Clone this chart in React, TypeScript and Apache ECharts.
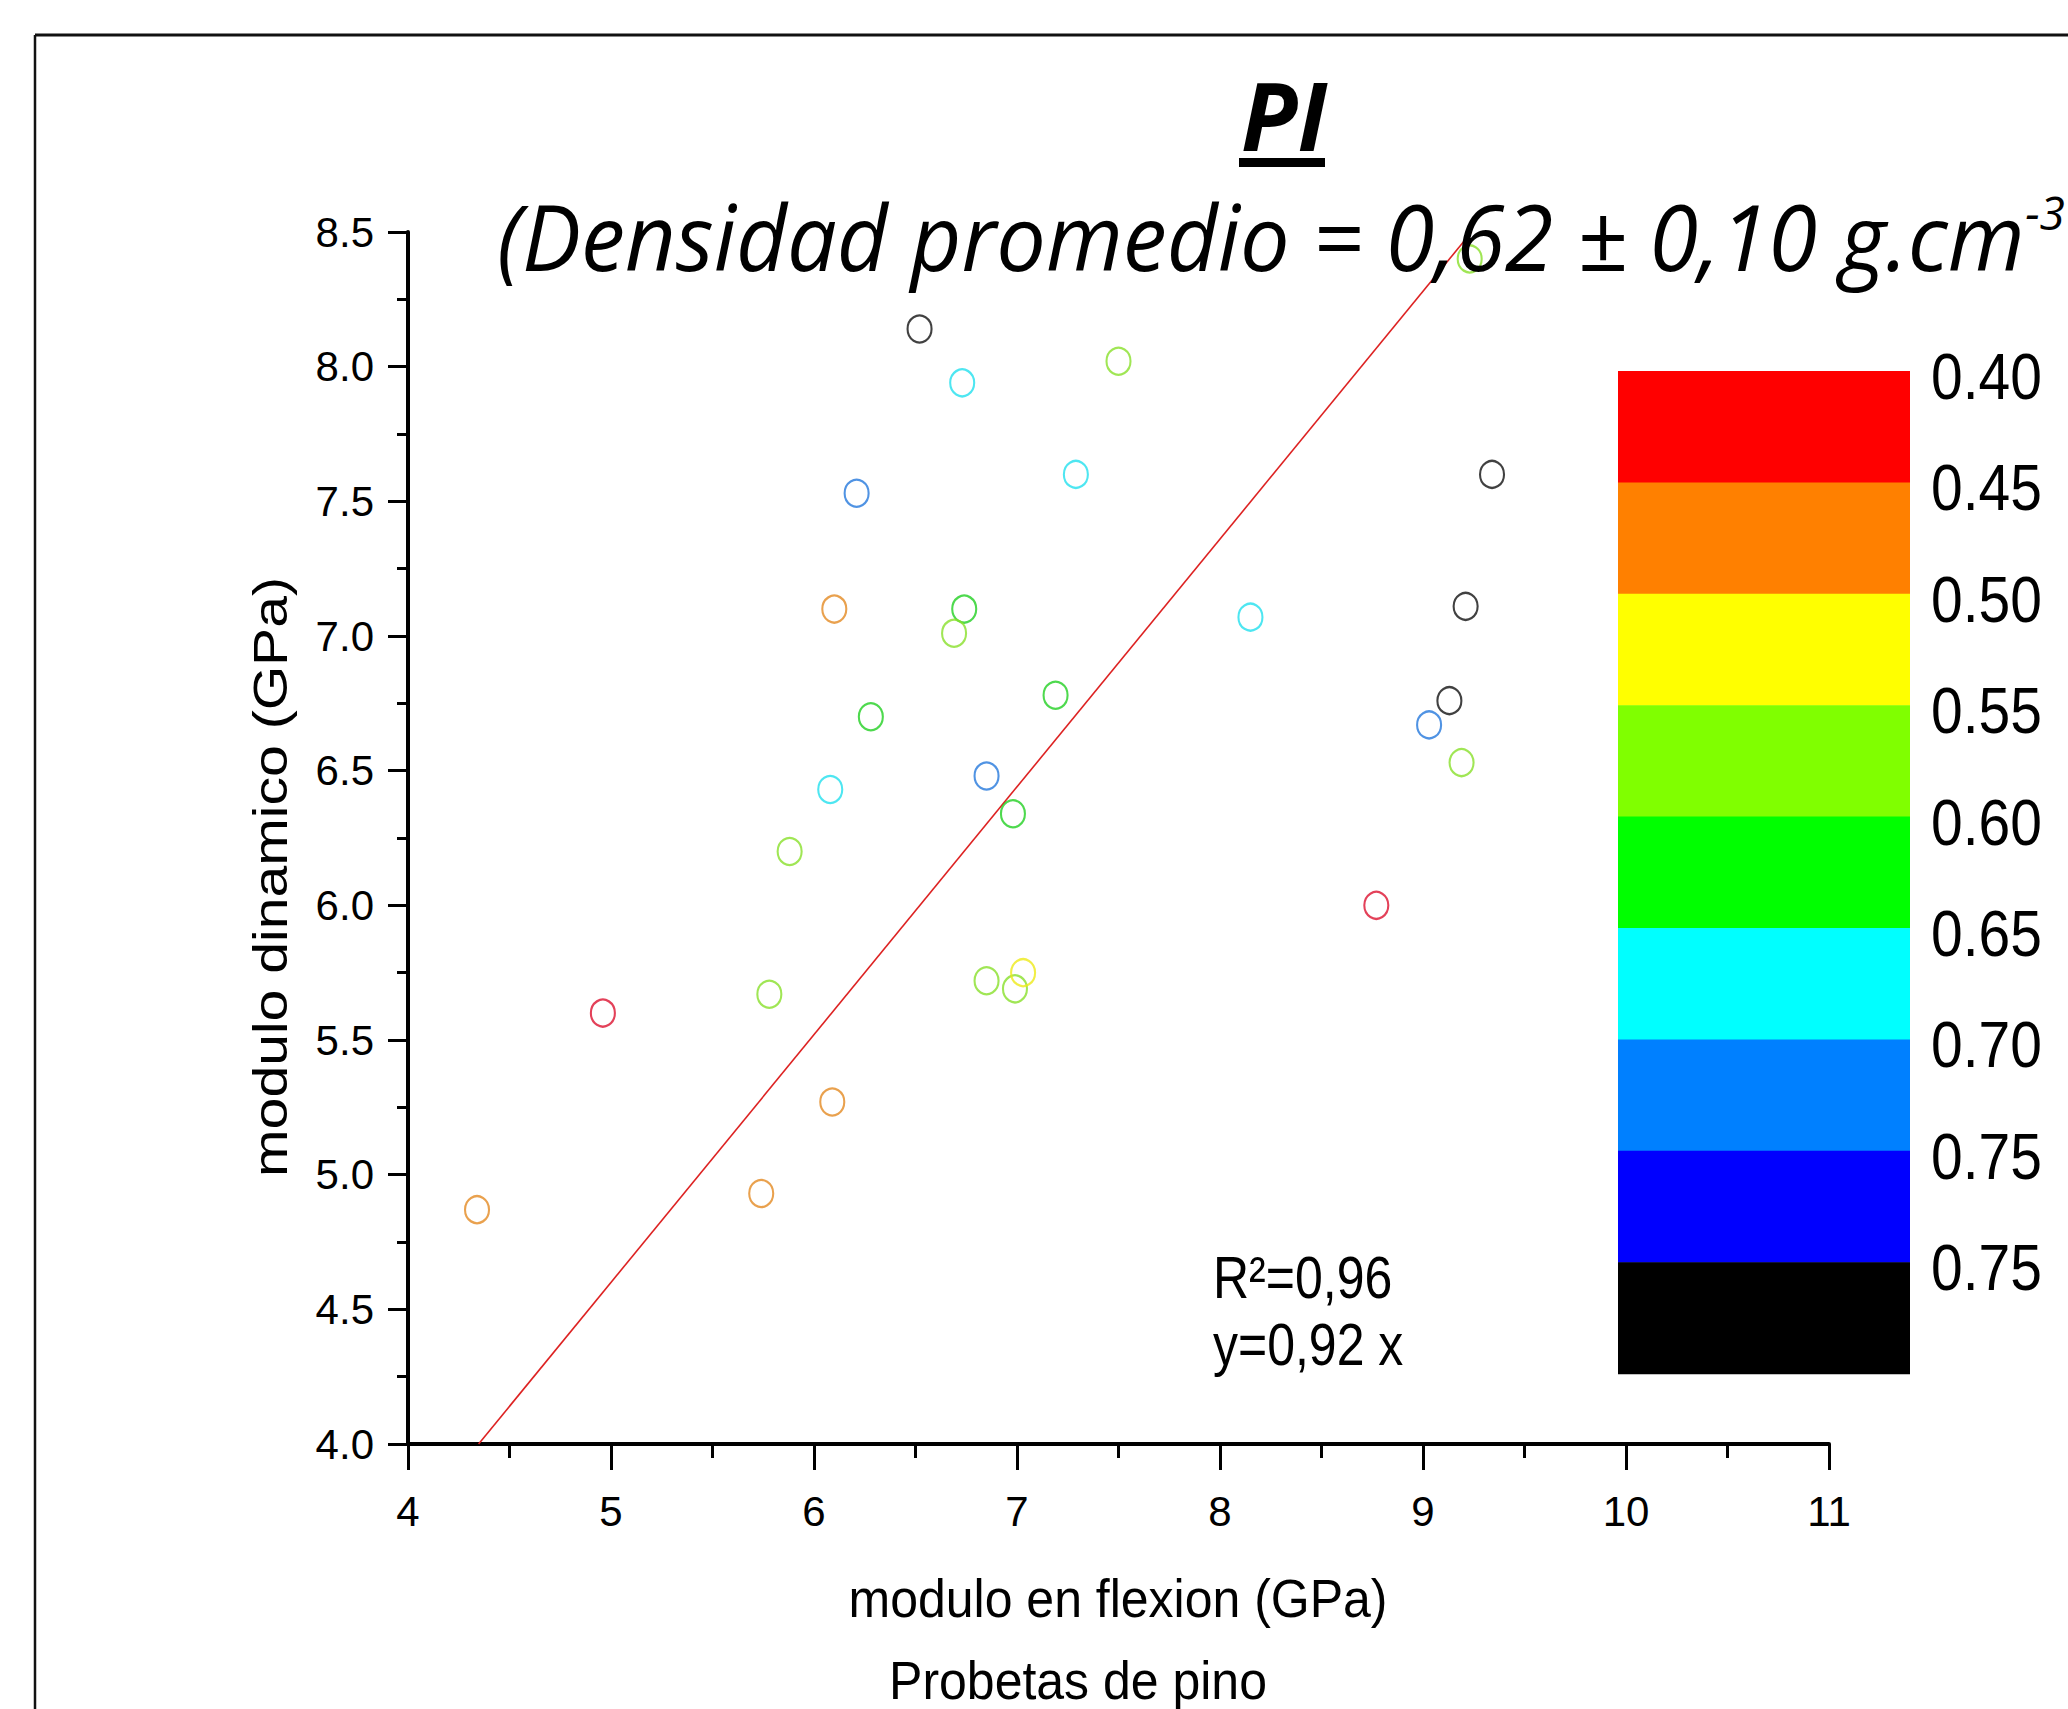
import React, { useEffect, useRef } from 'react';
import * as echarts from 'echarts';

// ---- data ----
const flexion = [6.52, 6.73, 7.50, 6.21, 7.29, 9.34, 6.10, 6.74, 6.69, 8.15, 9.21, 7.19, 6.28, 9.13, 9.03, 6.08, 6.85, 9.19, 6.98, 5.88, 8.77, 5.78, 4.96, 6.85, 6.99, 7.03, 6.09, 5.74, 4.34, 9.23];
const dinamico = [8.14, 7.94, 8.02, 7.53, 7.60, 7.60, 7.10, 7.10, 7.01, 7.07, 7.11, 6.78, 6.70, 6.76, 6.67, 6.43, 6.48, 6.53, 6.34, 6.20, 6.00, 5.67, 5.60, 5.72, 5.69, 5.75, 5.27, 4.93, 4.87, 8.40];
const densityBand = [8, 5, 3, 6, 5, 8, 1, 4, 3, 5, 8, 4, 4, 8, 6, 5, 6, 3, 4, 3, 0, 3, 0, 3, 3, 2, 1, 1, 1, 3];
const bandLabels = ['0.40', '0.45', '0.50', '0.55', '0.60', '0.65', '0.70', '0.75', '0.75'];
const bandColors = ['#ff0000', '#ff8000', '#ffff00', '#80ff00', '#00ff00', '#00ffff', '#0080ff', '#0000ff', '#000000'];
const markerColors = ['#dc1230', '#e48a22', '#eeea18', '#88e02a', '#22d022', '#22e0ee', '#2478dc', '#1010e0', '#111111'];
const slope = 0.92;
const xMin = 4, xMax = 11, yMin = 4, yMax = 8.5;
const titleText = 'PI';
const subtitleText = '(Densidad promedio = 0,62 \u00b1 0,10 g.cm';
const subtitleSup = '-3';
const r2Text = 'R\u00b2=0,96';
const eqText = 'y=0,92 x';
const xAxisTitle = 'modulo en flexion (GPa)';
const xAxisSub = 'Probetas de pino';
const yAxisTitle = 'modulo dinamico (GPa)';

const W = 2068, H = 1709;
const ARIAL = "'Liberation Sans', Arial, sans-serif";
const CAL = "'Open Sans', sans-serif";

function measure(text: string, font: string): number {
  const c = document.createElement('canvas');
  const ctx = c.getContext('2d');
  if (!ctx) return text.length * 40;
  ctx.font = font;
  return ctx.measureText(text).width;
}

function txt(o: any) {
  const s = o.style || {};
  s.align = s.textAlign; s.verticalAlign = s.textVerticalAlign;
  o.style = s;
  return o;
}

export default function App() {
  const ref = useRef<HTMLDivElement>(null);
  useEffect(() => {
    if (!ref.current) return;
    const chart = echarts.init(ref.current, null, { renderer: 'svg' });

    // title geometry
    const subSize = 88;
    const subW = measure(subtitleText, `italic 400 ${subSize}px 'Open Sans'`);
    const subScale = 1528 / subW;
    const supSize = 46;
    const supW = measure(subtitleSup, `italic 400 ${supSize}px 'Open Sans'`);
    const piSize = 95;
    const piW = measure(titleText, `italic 700 ${piSize}px 'Open Sans'`);
    const piScale = 86 / piW;

    const scatterData = flexion.map((x, i) => ({
      value: [x, dinamico[i]],
      itemStyle: { borderColor: markerColors[densityBand[i]] },
    }));
    const lineData = [[yMin / slope, yMin], [yMax / slope, yMax]];

    const graphics: any[] = [];
    // frame
    graphics.push({ type: 'line', shape: { x1: 35, y1: 35, x2: W, y2: 35 }, style: { stroke: '#111', lineWidth: 3 } });
    graphics.push({ type: 'line', shape: { x1: 35, y1: 35, x2: 35, y2: H }, style: { stroke: '#111', lineWidth: 2.5 } });
    // titles
    graphics.push(txt({ type: 'text', x: 1284, y: 114, scaleX: piScale, z: 100, style: { text: titleText, fontSize: piSize, fontFamily: CAL, fontStyle: 'italic', fontWeight: 700, fill: '#000', textAlign: 'center', textVerticalAlign: 'middle' } }));
    graphics.push({ type: 'rect', z: 100, shape: { x: 1239, y: 158, width: 86, height: 9 }, style: { fill: '#000' } });
    graphics.push(txt({ type: 'text', x: 497, y: 236, scaleX: subScale, scaleY: 1.03, z: 100, style: { text: subtitleText, fontSize: subSize, fontFamily: CAL, fontStyle: 'italic', fill: '#000', textAlign: 'left', textVerticalAlign: 'middle' } }));
    const supX = Math.min(497 + 1528 + 5, W - 3 - supW * subScale);
    graphics.push(txt({ type: 'text', x: supX, y: 212, scaleX: subScale, z: 100, style: { text: subtitleSup, fontSize: supSize, fontFamily: CAL, fontStyle: 'italic', fill: '#000', textAlign: 'left', textVerticalAlign: 'middle' } }));
    // legend color bar
    const lx = 1618, ly = 371, lw = 292, lh = 111.4;
    bandColors.forEach((c, i) => {
      graphics.push({ type: 'rect', shape: { x: lx, y: ly + i * lh, width: lw, height: lh + 0.6 }, style: { fill: c } });
    });
    bandLabels.forEach((t, i) => {
      graphics.push(txt({ type: 'text', x: 1931, y: ly + 5 + i * lh, scaleY: 1.15, style: { text: t, fontSize: 57, fontFamily: ARIAL, fill: '#000', textAlign: 'left', textVerticalAlign: 'middle' } }));
    });
    // annotation
    graphics.push(txt({ type: 'text', x: 1213, y: 1278, scaleY: 1.18, style: { text: r2Text, fontSize: 50, fontFamily: ARIAL, fill: '#000', textAlign: 'left', textVerticalAlign: 'middle' } }));
    graphics.push(txt({ type: 'text', x: 1213, y: 1345, scaleY: 1.18, style: { text: eqText, fontSize: 50, fontFamily: ARIAL, fill: '#000', textAlign: 'left', textVerticalAlign: 'middle' } }));
    // axis titles
    graphics.push(txt({ type: 'text', x: 1118, y: 1598, scaleY: 1.08, style: { text: xAxisTitle, fontSize: 50, fontFamily: ARIAL, fill: '#000', textAlign: 'center', textVerticalAlign: 'middle' } }));
    graphics.push(txt({ type: 'text', x: 1078, y: 1680, scaleY: 1.08, style: { text: xAxisSub, fontSize: 50, fontFamily: ARIAL, fill: '#000', textAlign: 'center', textVerticalAlign: 'middle' } }));
    graphics.push(txt({ type: 'text', x: 270, y: 877, rotation: Math.PI / 2, scaleX: 1.19, style: { text: yAxisTitle, fontSize: 48, fontFamily: ARIAL, fill: '#000', textAlign: 'center', textVerticalAlign: 'middle' } }));

    chart.setOption({
      animation: false,
      backgroundColor: '#fff',
      grid: { left: 408, top: 232, width: 1421, height: 1212 },
      xAxis: {
        type: 'value', min: xMin, max: xMax, interval: 1,
        axisLine: { show: true, onZero: false, lineStyle: { color: '#000', width: 4 } },
        axisTick: { show: true, inside: false, length: 26, lineStyle: { color: '#000', width: 3 } },
        minorTick: { show: true, splitNumber: 2, length: 14, lineStyle: { color: '#000', width: 3 } },
        splitLine: { show: false },
        axisLabel: { fontSize: 42, fontFamily: ARIAL, color: '#000', margin: 46 },
      },
      yAxis: {
        type: 'value', min: yMin, max: yMax, interval: 0.5,
        axisLine: { show: true, onZero: false, lineStyle: { color: '#000', width: 4 } },
        axisTick: { show: true, inside: false, length: 20, lineStyle: { color: '#000', width: 3 } },
        minorTick: { show: true, splitNumber: 2, length: 11, lineStyle: { color: '#000', width: 3 } },
        splitLine: { show: false },
        axisLabel: { fontSize: 42, fontFamily: ARIAL, color: '#000', margin: 34, formatter: (v: number) => v.toFixed(1) },
      },
      series: [
        {
          type: 'line', data: lineData, showSymbol: false, symbol: 'none', z: 1,
          lineStyle: { color: '#dd2222', width: 1.6 },
        },
        {
          type: 'scatter', data: scatterData, symbol: 'circle', symbolSize: [24, 27], z: 2,
          itemStyle: { color: 'rgba(255,255,255,0)', borderWidth: 2.2 },
        },
      ],
      graphic: { elements: graphics },
    });
    return () => chart.dispose();
  }, []);
  return <div ref={ref} style={{ position: 'fixed', left: 0, top: 0, width: W, height: H, background: '#fff' }} />;
}
